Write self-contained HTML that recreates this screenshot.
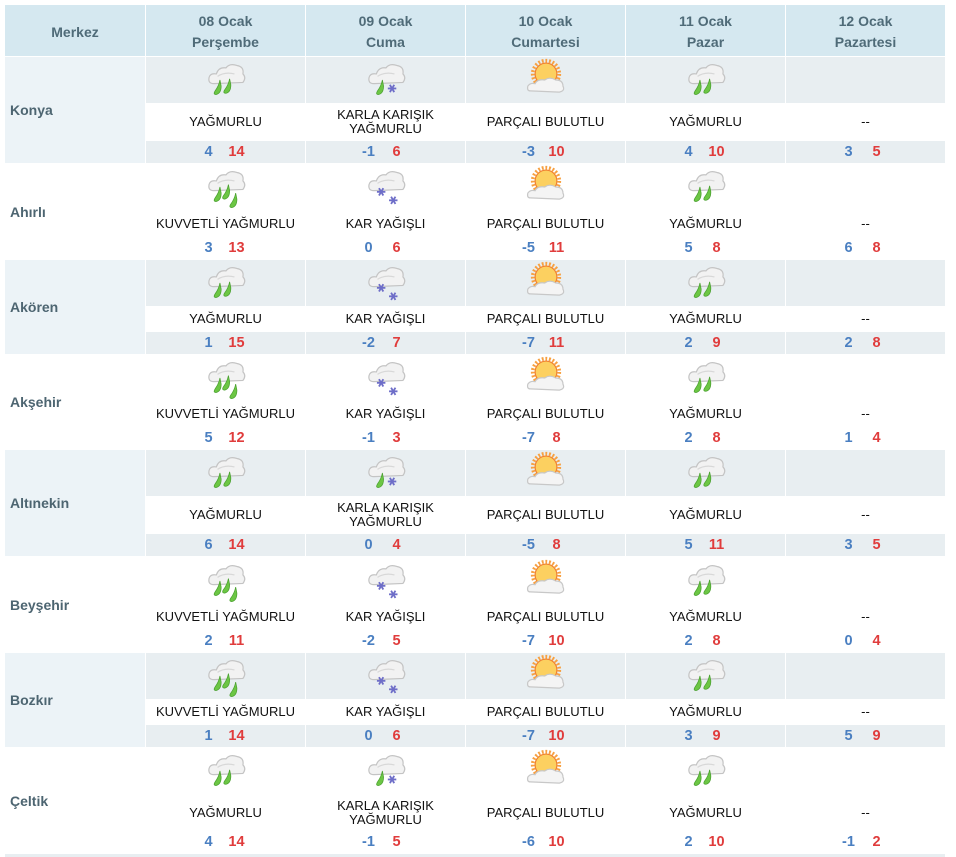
<!DOCTYPE html>
<html><head><meta charset="utf-8">
<style>
*{margin:0;padding:0;box-sizing:border-box}
body{width:956px;height:857px;background:#fff;font-family:"Liberation Sans",sans-serif;position:relative;overflow:hidden}
.hdr{position:absolute;top:5px;left:5px;width:940px;height:51px;display:grid;grid-template-columns:140px repeat(5,159px);column-gap:1px;background:#fff}
.hdr div{background:#d5e8f0;color:#4f6b78;font-weight:bold;font-size:14px;text-align:center;display:flex;flex-direction:column;justify-content:center;line-height:21px;padding-top:3px}
.row{position:absolute;left:5px;width:940px;display:grid;grid-template-columns:140px repeat(5,159px);column-gap:1px}
.name{display:flex;align-items:center;padding-left:5px;color:#4d6571;font-weight:bold;font-size:14px}
.g .name{background:#ecf3f7}
.d{display:flex;flex-direction:column}
.ic{height:46px;display:flex;align-items:center;justify-content:center}
.tx{flex:1;display:flex;align-items:center;justify-content:center;text-align:center;font-size:13px;color:#111;line-height:14px}
.tp{height:22px;display:flex;align-items:center;justify-content:center;font-weight:bold;font-size:14.5px}
.g .ic,.g .tp{background:#e8eef1}
.lo{color:#4a7fc1;width:28px;text-align:center;margin-left:-6px}
.hi{color:#e03c3c;width:28px;text-align:center}
svg.i{width:46px;height:46px}
</style></head><body>
<svg width="0" height="0" style="position:absolute">
<defs>
<g id="cl"><path d="M9 22 Q4 22 5 17 Q6 13 11 14 Q13 8 19 9 Q22 5 28 7 Q34 8 33 14 Q36 17 33 21 Z" fill="#f2f2f2" stroke="#c4c4c4" stroke-width="1"/><path d="M12 16 Q18 12 26 14" fill="none" stroke="#d8d8d8"/></g>
<path id="dr" d="M0 0 Q-1 5 -4 9 Q-6 12 -3 12 Q1 11 1 5 Z" fill="#6cc644" stroke="#4aa030" stroke-width=".6"/>
<g id="fl" stroke="#6e6ec8" stroke-width="1.5"><line x1="-3.5" y1="0" x2="3.5" y2="0"/><line x1="-1.8" y1="-3" x2="1.8" y2="3"/><line x1="-1.8" y1="3" x2="1.8" y2="-3"/></g>
<symbol id="rain" viewBox="0 0 38 38"><use href="#cl"/><use href="#dr" x="14" y="19"/><use href="#dr" x="22" y="18"/></symbol>
<symbol id="heavy" viewBox="0 0 38 38"><use href="#cl"/><use href="#dr" x="14" y="19"/><use href="#dr" x="21" y="17"/><use href="#dr" x="27" y="24"/></symbol>
<symbol id="sleet" viewBox="0 0 38 38"><use href="#cl"/><use href="#dr" x="16" y="19"/><use href="#fl" x="24" y="26"/></symbol>
<symbol id="snow" viewBox="0 0 38 38"><use href="#cl"/><use href="#fl" x="15" y="23"/><use href="#fl" x="25" y="30"/></symbol>
<symbol id="sun" viewBox="0 0 38 38"><circle cx="19" cy="14" r="11" fill="none" stroke="#f7a040" stroke-width="3" stroke-dasharray="1.5 1.5"/><circle cx="19" cy="14" r="9" fill="#fcd060" stroke="#f08030"/><path d="M6 28 Q3 28 4 24 Q6 21 10 22 Q12 18 18 19 Q22 16 27 19 Q33 19 33 24 Q35 28 30 29 Z" fill="#f4f4f4" stroke="#c8c8c8"/></symbol>
</defs></svg>

<div class="hdr"><div>Merkez</div><div>08 Ocak<br>Perşembe</div><div>09 Ocak<br>Cuma</div><div>10 Ocak<br>Cumartesi</div><div>11 Ocak<br>Pazar</div><div>12 Ocak<br>Pazartesi</div></div>

<div class="row g" style="top:57px;height:106px"><div class="name">Konya</div>
<div class="d"><div class="ic"><svg class="i"><use href="#rain"/></svg></div><div class="tx">YAĞMURLU</div><div class="tp"><span class="lo">4</span><span class="hi">14</span></div></div>
<div class="d"><div class="ic"><svg class="i"><use href="#sleet"/></svg></div><div class="tx">KARLA KARIŞIK<br>YAĞMURLU</div><div class="tp"><span class="lo">-1</span><span class="hi">6</span></div></div>
<div class="d"><div class="ic"><svg class="i"><use href="#sun"/></svg></div><div class="tx">PARÇALI BULUTLU</div><div class="tp"><span class="lo">-3</span><span class="hi">10</span></div></div>
<div class="d"><div class="ic"><svg class="i"><use href="#rain"/></svg></div><div class="tx">YAĞMURLU</div><div class="tp"><span class="lo">4</span><span class="hi">10</span></div></div>
<div class="d"><div class="ic"></div><div class="tx">--</div><div class="tp"><span class="lo">3</span><span class="hi">5</span></div></div>
</div>

<div class="row" style="top:164px;height:95px"><div class="name">Ahırlı</div>
<div class="d"><div class="ic"><svg class="i"><use href="#heavy"/></svg></div><div class="tx">KUVVETLİ YAĞMURLU</div><div class="tp"><span class="lo">3</span><span class="hi">13</span></div></div>
<div class="d"><div class="ic"><svg class="i"><use href="#snow"/></svg></div><div class="tx">KAR YAĞIŞLI</div><div class="tp"><span class="lo">0</span><span class="hi">6</span></div></div>
<div class="d"><div class="ic"><svg class="i"><use href="#sun"/></svg></div><div class="tx">PARÇALI BULUTLU</div><div class="tp"><span class="lo">-5</span><span class="hi">11</span></div></div>
<div class="d"><div class="ic"><svg class="i"><use href="#rain"/></svg></div><div class="tx">YAĞMURLU</div><div class="tp"><span class="lo">5</span><span class="hi">8</span></div></div>
<div class="d"><div class="ic"></div><div class="tx">--</div><div class="tp"><span class="lo">6</span><span class="hi">8</span></div></div>
</div>

<div class="row g" style="top:260px;height:94px"><div class="name">Akören</div>
<div class="d"><div class="ic"><svg class="i"><use href="#rain"/></svg></div><div class="tx">YAĞMURLU</div><div class="tp"><span class="lo">1</span><span class="hi">15</span></div></div>
<div class="d"><div class="ic"><svg class="i"><use href="#snow"/></svg></div><div class="tx">KAR YAĞIŞLI</div><div class="tp"><span class="lo">-2</span><span class="hi">7</span></div></div>
<div class="d"><div class="ic"><svg class="i"><use href="#sun"/></svg></div><div class="tx">PARÇALI BULUTLU</div><div class="tp"><span class="lo">-7</span><span class="hi">11</span></div></div>
<div class="d"><div class="ic"><svg class="i"><use href="#rain"/></svg></div><div class="tx">YAĞMURLU</div><div class="tp"><span class="lo">2</span><span class="hi">9</span></div></div>
<div class="d"><div class="ic"></div><div class="tx">--</div><div class="tp"><span class="lo">2</span><span class="hi">8</span></div></div>
</div>

<div class="row" style="top:355px;height:94px"><div class="name">Akşehir</div>
<div class="d"><div class="ic"><svg class="i"><use href="#heavy"/></svg></div><div class="tx">KUVVETLİ YAĞMURLU</div><div class="tp"><span class="lo">5</span><span class="hi">12</span></div></div>
<div class="d"><div class="ic"><svg class="i"><use href="#snow"/></svg></div><div class="tx">KAR YAĞIŞLI</div><div class="tp"><span class="lo">-1</span><span class="hi">3</span></div></div>
<div class="d"><div class="ic"><svg class="i"><use href="#sun"/></svg></div><div class="tx">PARÇALI BULUTLU</div><div class="tp"><span class="lo">-7</span><span class="hi">8</span></div></div>
<div class="d"><div class="ic"><svg class="i"><use href="#rain"/></svg></div><div class="tx">YAĞMURLU</div><div class="tp"><span class="lo">2</span><span class="hi">8</span></div></div>
<div class="d"><div class="ic"></div><div class="tx">--</div><div class="tp"><span class="lo">1</span><span class="hi">4</span></div></div>
</div>

<div class="row g" style="top:450px;height:106px"><div class="name">Altınekin</div>
<div class="d"><div class="ic"><svg class="i"><use href="#rain"/></svg></div><div class="tx">YAĞMURLU</div><div class="tp"><span class="lo">6</span><span class="hi">14</span></div></div>
<div class="d"><div class="ic"><svg class="i"><use href="#sleet"/></svg></div><div class="tx">KARLA KARIŞIK<br>YAĞMURLU</div><div class="tp"><span class="lo">0</span><span class="hi">4</span></div></div>
<div class="d"><div class="ic"><svg class="i"><use href="#sun"/></svg></div><div class="tx">PARÇALI BULUTLU</div><div class="tp"><span class="lo">-5</span><span class="hi">8</span></div></div>
<div class="d"><div class="ic"><svg class="i"><use href="#rain"/></svg></div><div class="tx">YAĞMURLU</div><div class="tp"><span class="lo">5</span><span class="hi">11</span></div></div>
<div class="d"><div class="ic"></div><div class="tx">--</div><div class="tp"><span class="lo">3</span><span class="hi">5</span></div></div>
</div>

<div class="row" style="top:558px;height:94px"><div class="name">Beyşehir</div>
<div class="d"><div class="ic"><svg class="i"><use href="#heavy"/></svg></div><div class="tx">KUVVETLİ YAĞMURLU</div><div class="tp"><span class="lo">2</span><span class="hi">11</span></div></div>
<div class="d"><div class="ic"><svg class="i"><use href="#snow"/></svg></div><div class="tx">KAR YAĞIŞLI</div><div class="tp"><span class="lo">-2</span><span class="hi">5</span></div></div>
<div class="d"><div class="ic"><svg class="i"><use href="#sun"/></svg></div><div class="tx">PARÇALI BULUTLU</div><div class="tp"><span class="lo">-7</span><span class="hi">10</span></div></div>
<div class="d"><div class="ic"><svg class="i"><use href="#rain"/></svg></div><div class="tx">YAĞMURLU</div><div class="tp"><span class="lo">2</span><span class="hi">8</span></div></div>
<div class="d"><div class="ic"></div><div class="tx">--</div><div class="tp"><span class="lo">0</span><span class="hi">4</span></div></div>
</div>

<div class="row g" style="top:653px;height:94px"><div class="name">Bozkır</div>
<div class="d"><div class="ic"><svg class="i"><use href="#heavy"/></svg></div><div class="tx">KUVVETLİ YAĞMURLU</div><div class="tp"><span class="lo">1</span><span class="hi">14</span></div></div>
<div class="d"><div class="ic"><svg class="i"><use href="#snow"/></svg></div><div class="tx">KAR YAĞIŞLI</div><div class="tp"><span class="lo">0</span><span class="hi">6</span></div></div>
<div class="d"><div class="ic"><svg class="i"><use href="#sun"/></svg></div><div class="tx">PARÇALI BULUTLU</div><div class="tp"><span class="lo">-7</span><span class="hi">10</span></div></div>
<div class="d"><div class="ic"><svg class="i"><use href="#rain"/></svg></div><div class="tx">YAĞMURLU</div><div class="tp"><span class="lo">3</span><span class="hi">9</span></div></div>
<div class="d"><div class="ic"></div><div class="tx">--</div><div class="tp"><span class="lo">5</span><span class="hi">9</span></div></div>
</div>

<div class="row" style="top:748px;height:105px"><div class="name">Çeltik</div>
<div class="d"><div class="ic"><svg class="i"><use href="#rain"/></svg></div><div class="tx">YAĞMURLU</div><div class="tp"><span class="lo">4</span><span class="hi">14</span></div></div>
<div class="d"><div class="ic"><svg class="i"><use href="#sleet"/></svg></div><div class="tx">KARLA KARIŞIK<br>YAĞMURLU</div><div class="tp"><span class="lo">-1</span><span class="hi">5</span></div></div>
<div class="d"><div class="ic"><svg class="i"><use href="#sun"/></svg></div><div class="tx">PARÇALI BULUTLU</div><div class="tp"><span class="lo">-6</span><span class="hi">10</span></div></div>
<div class="d"><div class="ic"><svg class="i"><use href="#rain"/></svg></div><div class="tx">YAĞMURLU</div><div class="tp"><span class="lo">2</span><span class="hi">10</span></div></div>
<div class="d"><div class="ic"></div><div class="tx">--</div><div class="tp"><span class="lo">-1</span><span class="hi">2</span></div></div>
</div>
<div style="position:absolute;left:5px;top:854px;width:940px;height:3px;background:#e8eef1"></div>
</body></html>
